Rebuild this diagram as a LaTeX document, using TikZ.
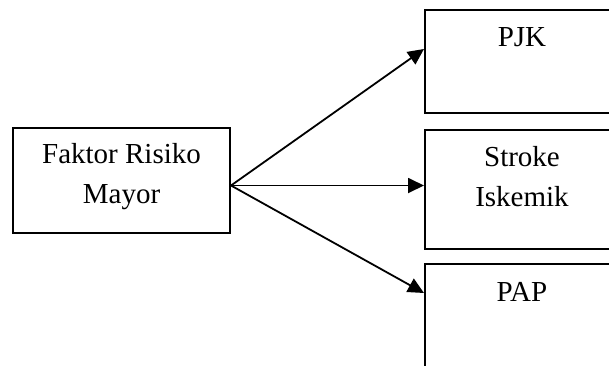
\documentclass[tikz,border=0pt]{standalone}
\usepackage{fontspec}
\setmainfont{Liberation Serif}
\usetikzlibrary{arrows.meta, positioning}

\begin{document}
\begin{tikzpicture}[x=0.5pt, y=-0.5pt,
    box/.style={draw, line width=1pt, inner sep=0pt, anchor=north west, minimum width=97pt},
    lbl/.style={font=\fontsize{14.5}{20}\selectfont, align=center, inner sep=0pt},
    link/.style={-{Triangle[length=8pt,width=7.5pt]}, line width=0.9pt}]
    \useasboundingbox (0,0) rectangle (609,365);
    \clip (0,0) rectangle (609,365);
    % Main node
    \node[draw, line width=1pt, minimum width=108.5pt, minimum height=52.5pt] (faktor) at (121.5,180.5) {};
    \node[lbl] (faktortext) at ([yshift=1.75pt]faktor.center) {Faktor Risiko\\Mayor};
    % Outcome nodes
    \node[box, minimum height=51.5pt] (pjk) at (424,9) {};
    \node[box, minimum height=59.5pt] (stroke) at (424,129) {};
    \node[box, minimum height=60pt] (pap) at (424,263) {};
    % Outcome ids
    \node[lbl] (pjktext) at ([yshift=-14pt]pjk.north) {PJK};
    \node[lbl] (stroketext) at ([yshift=-24pt]stroke.north) {Stroke\\Iskemik};
    \node[lbl] (paptext) at ([yshift=-14.5pt]pap.north) {PAP};
    % Arrows
    \coordinate (src) at ([yshift=-2.5pt]faktor.east);
    \coordinate (pjkin) at ([yshift=6.25pt]pjk.west);
    \coordinate (papin) at ([yshift=-15pt]pap.north west);
    \draw[link] (src) -- (pjkin);
    \draw[link] (src) -- (src -| stroke.west);
    \draw[link] (src) -- (papin);
\end{tikzpicture}
\end{document}
